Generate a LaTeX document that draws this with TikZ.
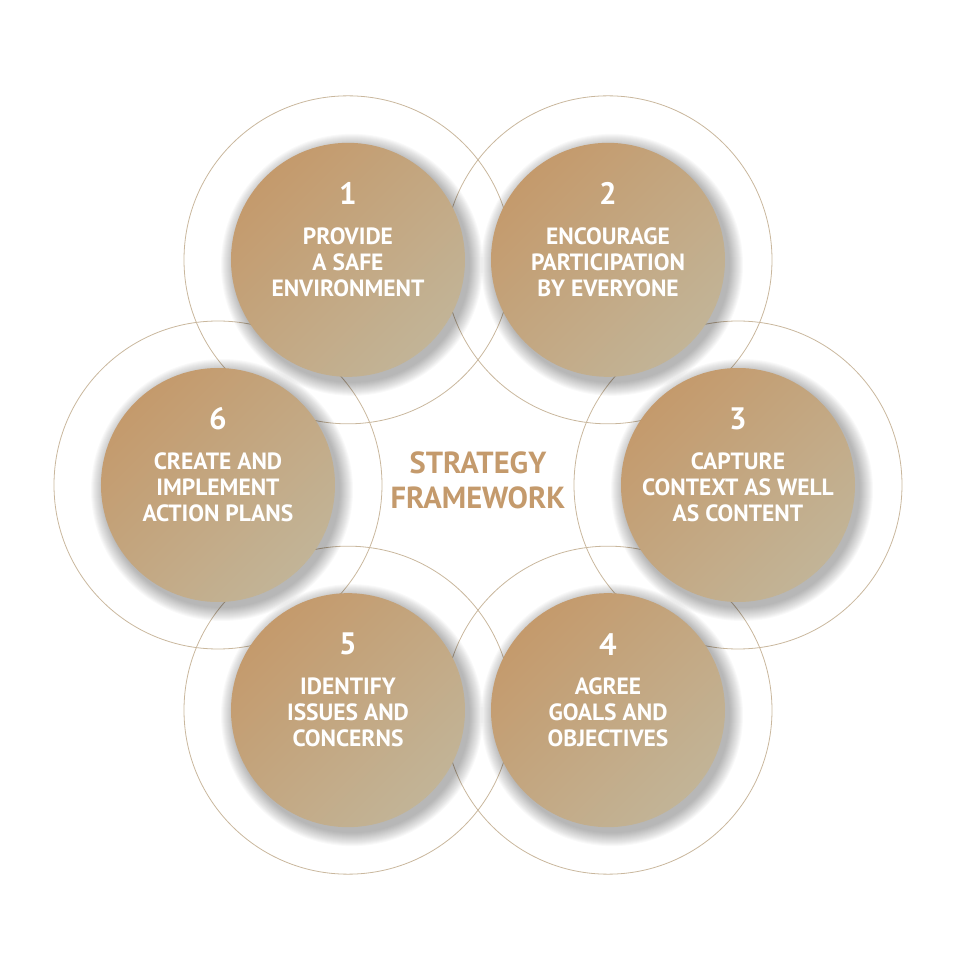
\documentclass[tikz,border=0pt]{standalone}
\usepackage{fontspec}
\setmainfont{PT Sans}
\usetikzlibrary{calc}

\definecolor{tanDark}{HTML}{C49A6C}
\definecolor{tanLight}{HTML}{C2B497}
\definecolor{ringLine}{HTML}{C9B79D}

\begin{document}
\begin{tikzpicture}[x=1pt, y=1pt,
  ring/.style={draw=ringLine, line width=0.8pt},
  disk/.style={circle, minimum size=234pt, inner sep=0pt,
    top color=tanDark, bottom color=tanLight, shading angle=45},
  numtext/.style={text=white, font=\bfseries\fontsize{31}{31}\selectfont},
  steptext/.style={text=white, align=center, font=\bfseries\fontsize{23.5}{26}\selectfont},
  hubtext/.style={text=tanDark, align=center, font=\bfseries\fontsize{30.5}{35}\selectfont}]
\useasboundingbox (-478,-470) rectangle (477,485);

% Outer rings
\foreach \ang in {0,60,...,300}
  \draw[ring] (\ang:260) circle (164);

% Steps
\foreach \ang/\idx/\lbl in {
    120/1/{PROVIDE\\A SAFE\\ENVIRONMENT},
    60/2/{ENCOURAGE\\PARTICIPATION\\BY EVERYONE},
    0/3/{CAPTURE\\CONTEXT  AS WELL\\AS CONTENT},
    -60/4/{AGREE\\GOALS AND\\OBJECTIVES},
    -120/5/{IDENTIFY\\ISSUES AND\\CONCERNS},
    180/6/{CREATE AND\\IMPLEMENT\\ACTION PLANS}} {
  % shadow
  \foreach \k in {1,...,14}
    \fill[black, opacity=0.022] ($(\ang:260)+(4,-5)$) circle (117+15-\k);
  \node[disk] (disk\idx) at (\ang:260) {};
  \node[numtext] (num\idx) at ($(disk\idx)+(0,66)$) {\idx};
  \node[steptext] (txt\idx) at ($(disk\idx)+(0,-2)$) {\lbl};
}

% Centre
\node[hubtext] (hub) at (0,5) {STRATEGY\\FRAMEWORK};
\end{tikzpicture}
\end{document}
